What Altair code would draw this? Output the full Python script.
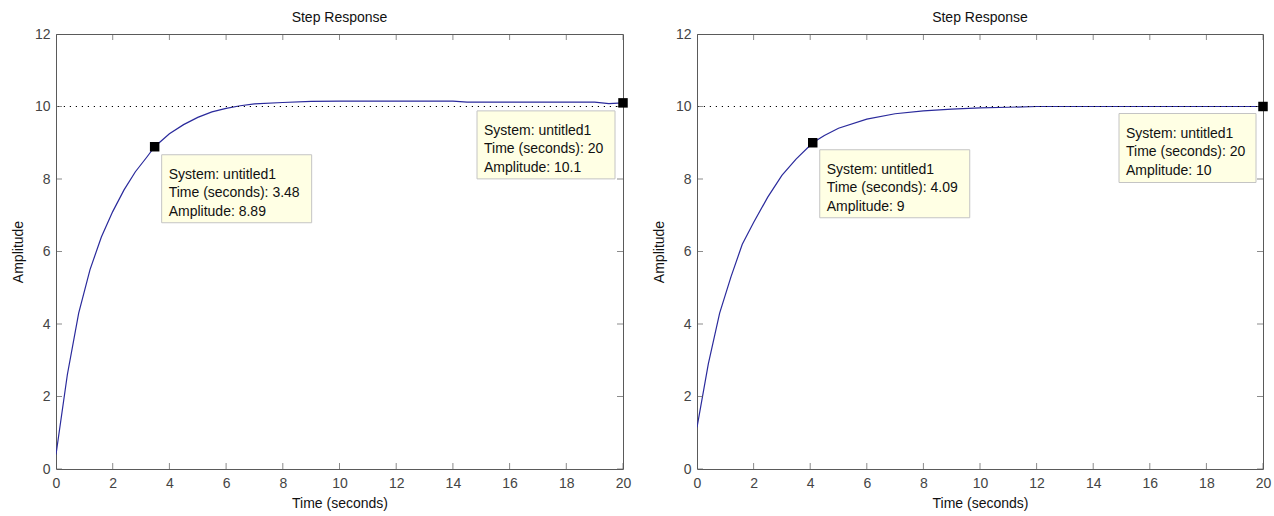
import altair as alt
import pandas as pd

# ---- data ----
t_left = [0.0, 0.4, 0.8, 1.2, 1.6, 2.0, 2.4, 2.8, 3.2, 3.48, 4.0, 4.5, 5.0, 5.5, 6.0, 6.5, 7.0,
          8.0, 9.0, 10.0, 12.0, 14.0, 14.5, 16.0, 18.0, 19.0, 19.5, 20.0]
amp_left = [0.4, 2.6, 4.3, 5.5, 6.4, 7.1, 7.7, 8.2, 8.6, 8.89, 9.25, 9.5, 9.7, 9.85, 9.95, 10.02, 10.07,
            10.11, 10.14, 10.15, 10.15, 10.15, 10.12, 10.12, 10.12, 10.12, 10.08, 10.1]

t_right = [0.0, 0.4, 0.8, 1.2, 1.6, 2.0, 2.5, 3.0, 3.5, 4.09, 4.5, 5.0, 6.0, 7.0, 8.0, 9.0, 10.0,
           11.0, 12.0, 14.0, 16.0, 18.0, 20.0]
amp_right = [1.15, 2.9, 4.3, 5.3, 6.2, 6.8, 7.5, 8.1, 8.55, 9.0, 9.2, 9.4, 9.65, 9.8, 9.88, 9.93, 9.96,
             9.98, 10.0, 10.0, 10.0, 10.0, 10.0]

marker_t_left = [3.48, 20]
marker_amp_left = [8.89, 10.1]
marker_t_right = [4.09, 20]
marker_amp_right = [9, 10]

x_tick_values = [0, 2, 4, 6, 8, 10, 12, 14, 16, 18, 20]
y_tick_values = [0, 2, 4, 6, 8, 10, 12]
final_value = 10

title_text = "Step Response"
x_title = "Time (seconds)"
y_title = "Amplitude"
system_name = "untitled1"

FONT = "Liberation Sans"
FRAME = "#5a5a5a"
LINE = "#2a2a9c"
H = 435


def label_for(t, a):
    return f"System: {system_name}\nTime (seconds): {t:g}\nAmplitude: {a:g}"


XS = alt.Scale(domain=[0, 20], nice=False, zero=False)
YS = alt.Scale(domain=[0, 12], nice=False, zero=False)
AX = alt.Axis(values=x_tick_values, format="d")
AY = alt.Axis(values=y_tick_values, format="d")


def X(field):
    return alt.X(field, type="quantitative", scale=XS, axis=AX, title=x_title)


def Y(field):
    return alt.Y(field, type="quantitative", scale=YS, axis=AY, title=y_title)


def XD(v):
    return alt.XDatum(v, type="quantitative", scale=XS, axis=AX, title=x_title)


def YD(v):
    return alt.YDatum(v, type="quantitative", scale=YS, axis=AY, title=y_title)


def panel(t, amp, mk_t, mk_amp, box_specs, width):
    df = pd.DataFrame({"t": t, "amp": amp})
    line = alt.Chart(df).mark_line(color=LINE, strokeWidth=1.2, clip=True).encode(
        x=X("t"), y=Y("amp"))
    ref = alt.Chart(pd.DataFrame({"v": [final_value]})).mark_rule(
        color="black", strokeDash=[1.2, 4.8], strokeWidth=1
    ).encode(y=Y("v"))

    xt = pd.DataFrame({"v": x_tick_values})
    yt = pd.DataFrame({"v": y_tick_values})
    tick_kw = dict(size=12, thickness=1, clip=True, color=FRAME)
    bottom = alt.Chart(xt).mark_tick(orient="vertical", **tick_kw).encode(x=X("v"), y=YD(0))
    top = alt.Chart(xt).mark_tick(orient="vertical", **tick_kw).encode(x=X("v"), y=YD(12))
    left = alt.Chart(yt).mark_tick(orient="horizontal", **tick_kw).encode(y=Y("v"), x=XD(0))
    right = alt.Chart(yt).mark_tick(orient="horizontal", **tick_kw).encode(y=Y("v"), x=XD(20))

    layers = [line, ref, bottom, top, left, right]
    for (mt, ma, bx1, bx2, by1, by2, tdx, tdy) in box_specs:
        d = pd.DataFrame({"t": [mt], "amp": [ma], "label": [label_for(mt, ma)]})
        box = alt.Chart(d).mark_rect(
            fill="#ffffe4", stroke="#c4c4c4", strokeWidth=1,
            xOffset=bx1, x2Offset=bx2, yOffset=by1, y2Offset=by2
        ).encode(x=X("t"), x2="t", y=Y("amp"), y2="amp")
        txt = alt.Chart(d).mark_text(
            align="left", baseline="alphabetic", dx=tdx, dy=tdy,
            lineBreak="\n", lineHeight=18.5, fontSize=14, font=FONT, color="#111"
        ).encode(x=X("t"), y=Y("amp"), text="label:N")
        layers += [box, txt]

    mk = alt.Chart(pd.DataFrame({"t": mk_t, "amp": mk_amp})).mark_square(
        size=90, color="black", opacity=1
    ).encode(x=X("t"), y=Y("amp"))
    layers.append(mk)

    return alt.layer(*layers).properties(
        width=width, height=H,
        title=alt.TitleParams(title_text, fontSize=14, fontWeight="normal", font=FONT,
                              color="#111", offset=2, anchor="middle"),
    )


left_panel = panel(
    t_left, amp_left, marker_t_left, marker_amp_left,
    [(marker_t_left[0], marker_amp_left[0], 7, 157, 8, 76, 14, 32),
     (marker_t_left[1], marker_amp_left[1], -146, -8, 8, 76, -139, 32)],
    567,
)
right_panel = panel(
    t_right, amp_right, marker_t_right, marker_amp_right,
    [(marker_t_right[0], marker_amp_right[0], 7, 157, 7, 75, 14, 31),
     (marker_t_right[1], marker_amp_right[1], -144, -7, 7, 76, -137, 31)],
    566,
)

chart = alt.hconcat(left_panel, right_panel, spacing=19).properties(
    padding={"left": 10, "top": 10, "right": 0, "bottom": 0},
    background="white",
).configure_view(
    stroke=FRAME, strokeWidth=1
).configure_axis(
    grid=False, ticks=False, domain=False,
    labelFont=FONT, labelFontSize=14, labelColor="#444",
    titleFont=FONT, titleFontSize=14, titleFontWeight="normal", titleColor="#111",
    labelFlush=False, labelOverlap=False,
).configure_axisX(
    labelPadding=7, titlePadding=6
).configure_axisY(
    labelPadding=6, titlePadding=9
)

chart.save("out.html", embed_options={"renderer": "svg", "actions": False})
